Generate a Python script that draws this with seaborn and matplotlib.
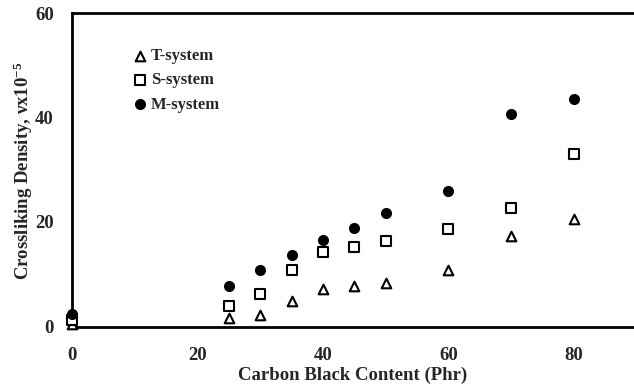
import matplotlib
matplotlib.use("Agg")
import matplotlib.pyplot as plt
import seaborn as sns
import pandas as pd

carbon = [0, 25, 30, 35, 40, 45, 50, 60, 70, 80]
t_system = [0.5, 1.6, 2.2, 4.9, 7.1, 7.7, 8.4, 10.9, 17.3, 20.6]
s_system = [1.3, 4.0, 6.2, 10.8, 14.2, 15.3, 16.4, 18.6, 22.6, 33.0]
m_system = [2.3, 7.8, 10.9, 13.7, 16.5, 18.8, 21.8, 26.0, 40.7, 43.6]
series_names = ["T-system", "S-system", "M-system"]

df = pd.concat([
    pd.DataFrame({"x": carbon, "y": vals, "system": name})
    for name, vals in zip(series_names, [t_system, s_system, m_system])
])

sns.set_style("white")
plt.rcParams["font.family"] = ["Liberation Serif", "DejaVu Serif"]
plt.rcParams["font.weight"] = "bold"
plt.rcParams["mathtext.fontset"] = "custom"
plt.rcParams["mathtext.rm"] = "Liberation Serif:bold"
plt.rcParams["mathtext.it"] = "Liberation Serif:italic:bold"

fig = plt.figure(figsize=(6.34, 3.88), dpi=100)
ax = fig.add_axes([72/634, 1-326.5/388, 1-72/634, (326.5-13)/388])

markers = {"T-system": "^", "S-system": "s", "M-system": "o"}
for name in series_names:
    sub = df[df["system"] == name]
    filled = name == "M-system"
    sns.scatterplot(data=sub, x="x", y="y", marker=markers[name], s=42 if name != "T-system" else 48,
                    facecolor="black" if filled else "white", edgecolor="black",
                    linewidth=1.5, ax=ax, label=name, clip_on=False, zorder=3)

ax.set_xlim(0, 89.6)
ax.set_ylim(0, 60)
ax.set_xticks([0, 20, 40, 60, 80])
ax.set_yticks([0, 20, 40, 60])
ax.tick_params(direction="in", length=5, width=1.5, labelsize=13.5)
ax.tick_params(axis="x", pad=15)
ax.tick_params(axis="y", pad=13)
for lbl in ax.get_xticklabels() + ax.get_yticklabels():
    lbl.set_fontweight("bold")
for side in ["left", "bottom", "top"]:
    ax.spines[side].set_linewidth(2)
    ax.spines[side].set_color("black")
ax.spines["right"].set_visible(False)

ax.set_xlabel("Carbon Black Content (Phr)", fontsize=13.5, fontweight="bold", labelpad=2)
ax.set_ylabel("Crossliking Density, νx10$^{-5}$", fontsize=13.5, fontweight="bold")
ax.yaxis.set_label_coords(-0.066, 0.496)

leg = ax.legend(loc="upper left", bbox_to_anchor=(0.095, 0.91), frameon=False,
                fontsize=12, handletextpad=0.15, labelspacing=0.5, borderaxespad=0, handlelength=1.0)
for t in leg.get_texts():
    t.set_fontweight("bold")

fig.savefig("out.png", dpi=100)
